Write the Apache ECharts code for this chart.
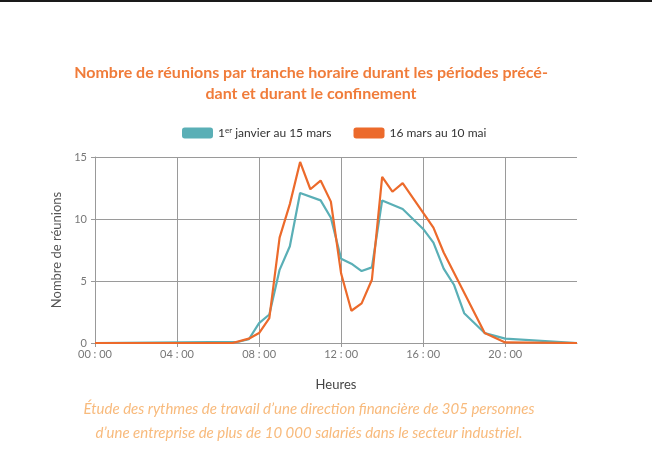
<!DOCTYPE html>
<html>
<head>
<meta charset="utf-8">
<script src="https://cdn.jsdelivr.net/npm/echarts@6/dist/echarts.min.js"></script>
<style>
	html, body { margin: 0; padding: 0; background: #fff; }
	#chart { width: 652px; height: 470px; }
</style>
</head>
<body>
<div id="chart"></div>
<script>
// heures (décimales) et nombre de réunions
var tealHours = [0, 7, 7.5, 8, 8.5, 9, 9.5, 10, 11, 11.5, 12, 12.5, 13, 13.5, 14, 15, 16, 16.5, 17, 17.5, 18, 19, 20, 23.5];
var tealValues = [0, 0.1, 0.3, 1.6, 2.3, 5.9, 7.8, 12.1, 11.5, 10.1, 6.8, 6.4, 5.8, 6.1, 11.5, 10.8, 9.2, 8.1, 6.0, 4.7, 2.4, 0.8, 0.35, 0];
var orangeHours = [0, 6.7, 7.5, 8, 8.5, 9, 9.5, 10, 10.5, 11, 11.5, 12, 12.5, 13, 13.5, 14, 14.5, 15, 16.5, 17, 19, 20, 23.5];
var orangeValues = [0, 0, 0.35, 0.8, 2.0, 8.5, 11.2, 14.6, 12.4, 13.1, 11.4, 5.6, 2.6, 3.2, 5.1, 13.4, 12.2, 12.9, 9.3, 7.3, 0.8, 0.05, 0];
var seriesNames = ["1er janvier au 15 mars", "16 mars au 10 mai"];
var seriesColors = ["#5aafb6", "#ec6a2b"];

var font = "Lato, 'Open Sans', sans-serif";

function pairs(xs, ys) {
	return xs.map(function(x, i) {
		return [x, ys[i]];
	});
}

function hourLabel(value) {
	if (value % 4 !== 0) {
		return "";
	}
	var h = value < 10 ? "0" + value : "" + value;
	return h + " : 00";
}

var chart = echarts.init(document.getElementById("chart"));

var option = {
	animation: false,
	textStyle: { fontFamily: font },
	title: {
		text: "Nombre de réunions par tranche horaire durant les périodes précé-\ndant et durant le confinement",
		left: 306,
		top: 57,
		textAlign: "center",
		textStyle: {
			fontFamily: font,
			fontSize: 16,
			fontWeight: "bold",
			color: "#f07c3a",
			lineHeight: 21
		}
	},
	legend: {
		top: 121,
		left: 177,
		icon: "roundRect",
		itemWidth: 31,
		itemHeight: 11,
		itemGap: 22,
		data: seriesNames,
		formatter: function(name) {
			if (name.indexOf("1er") === 0) {
				return "1{sup|er} " + name.substring(4);
			}
			return name;
		},
		textStyle: {
			fontFamily: font,
			fontSize: 12,
			color: "#333",
			rich: {
				sup: {
					fontFamily: font,
					fontSize: 8,
					color: "#333",
					verticalAlign: "top",
					padding: [0, 0, 6, 0]
				}
			}
		}
	},
	grid: {
		left: 95,
		right: 75,
		top: 157,
		bottom: 127
	},
	xAxis: {
		type: "value",
		min: 0,
		max: 23.5,
		interval: 4,
		name: "Heures",
		nameLocation: "middle",
		nameGap: 35,
		nameTextStyle: { fontFamily: font, fontSize: 13, color: "#444" },
		axisLine: { show: true, lineStyle: { color: "#999", width: 1 } },
		axisTick: { show: true, length: 4, lineStyle: { color: "#999" } },
		axisLabel: {
			formatter: hourLabel,
			showMaxLabel: false,
			fontFamily: font,
			fontSize: 11,
			color: "#777",
			margin: 6
		},
		splitLine: { show: true, showMaxLine: false, lineStyle: { color: "#9a9a9a", width: 1 } }
	},
	yAxis: {
		type: "value",
		min: 0,
		max: 15,
		interval: 5,
		name: "Nombre de réunions",
		nameLocation: "middle",
		nameGap: 31,
		nameTextStyle: { fontFamily: font, fontSize: 13, color: "#555" },
		axisLine: { show: true, lineStyle: { color: "#999", width: 1 } },
		axisTick: { show: true, length: 4, lineStyle: { color: "#999" } },
		axisLabel: { fontFamily: font, fontSize: 11, color: "#777", margin: 8 },
		splitLine: { show: true, lineStyle: { color: "#9a9a9a", width: 1 } }
	},
	series: [{
		name: seriesNames[0],
		type: "line",
		data: pairs(tealHours, tealValues),
		showSymbol: false,
		color: seriesColors[0],
		lineStyle: { width: 2.2, color: seriesColors[0] },
		z: 2
	}, {
		name: seriesNames[1],
		type: "line",
		data: pairs(orangeHours, orangeValues),
		showSymbol: false,
		color: seriesColors[1],
		lineStyle: { width: 2.2, color: seriesColors[1] },
		z: 3
	}],
	graphic: [{
		type: "rect",
		shape: { x: 0, y: 0, width: 652, height: 2 },
		style: { fill: "#1a1a1a" }
	}, {
		type: "text",
		x: 309,
		y: 409,
		style: {
			text: "Étude des rythmes de travail d’une direction financière de 305 personnes",
			font: "italic 15px " + font,
			fill: "#f8ba7c",
			textAlign: "center",
			textVerticalAlign: "middle"
		}
	}, {
		type: "text",
		x: 309,
		y: 433,
		style: {
			text: "d’une entreprise de plus de 10 000 salariés dans le secteur industriel.",
			font: "italic 15px " + font,
			fill: "#f8ba7c",
			textAlign: "center",
			textVerticalAlign: "middle"
		}
	}]
};

chart.setOption(option);
</script>
</body>
</html>
